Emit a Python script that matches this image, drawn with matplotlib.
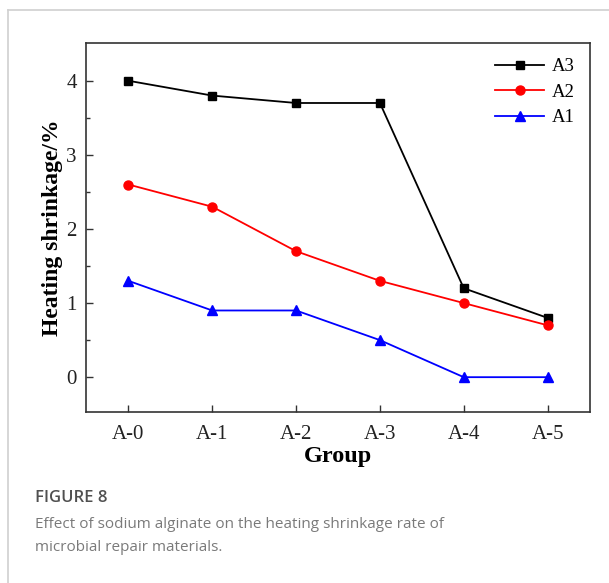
import matplotlib
matplotlib.use("Agg")
import matplotlib.pyplot as plt
from matplotlib.lines import Line2D

groups = ["A-0", "A-1", "A-2", "A-3", "A-4", "A-5"]
a3 = [4.0, 3.8, 3.7, 3.7, 1.2, 0.8]
a2 = [2.6, 2.3, 1.7, 1.3, 1.0, 0.7]
a1 = [1.3, 0.9, 0.9, 0.5, 0.0, 0.0]

plt.rcParams["font.family"] = ["Liberation Serif", "DejaVu Serif"]

fig = plt.figure(figsize=(6.09, 5.83), dpi=100)
ax = fig.add_axes([0.142, 0.2933, 0.826, 0.633])

x = range(len(groups))
ax.plot(x, a3, color="black", marker="s", markersize=5.5, linewidth=1.3, label="A3")
ax.plot(x, a2, color="red", marker="o", markersize=6.5, linewidth=1.3, label="A2")
ax.plot(x, a1, color="blue", marker="^", markersize=6.5, linewidth=1.3, label="A1")

ax.set_xlim(-0.5, 5.5)
ax.set_ylim(-0.47, 4.51)
ax.set_xticks(list(x))
ax.set_xticklabels(groups)
ax.set_yticks([0, 1, 2, 3, 4])
ax.set_yticks([0.5, 1.5, 2.5, 3.5], minor=True)
ax.tick_params(direction="in", labelsize=15, length=5, width=1, colors="#333333")
ax.tick_params(which="minor", direction="in", length=3, width=1, colors="#333333")
ax.tick_params(axis="x", labelcolor="#222222", pad=9)
ax.tick_params(axis="y", labelcolor="#222222", pad=7)
for s in ax.spines.values():
    s.set_linewidth(1.2)
    s.set_color("#333333")

ax.set_xlabel("Group", fontsize=17.5, fontweight="bold", labelpad=2)
ax.set_ylabel("Heating shrinkage/%", fontsize=17, fontweight="bold", labelpad=2)

ax.legend(loc="upper right", frameon=False, fontsize=13.5, handlelength=2.6,
          handletextpad=0.4, labelspacing=0.45, borderaxespad=0.4)

# page frame and caption
fig.add_artist(Line2D([8 / 609, 1], [1 - 9.5 / 583] * 2, color="#d0d0d0", lw=1.2))
fig.add_artist(Line2D([8 / 609] * 2, [0, 1 - 9.5 / 583], color="#d0d0d0", lw=1.2))
fig.text(35 / 609, 1 - 498 / 583, "FIGURE 8", fontsize=12, fontweight="semibold",
         color="#505050", family=["Open Sans", "DejaVu Sans"], va="center")
fig.text(35 / 609, 1 - 536 / 583,
         "Effect of sodium alginate on the heating shrinkage rate of\nmicrobial repair materials.",
         fontsize=11, color="#7a7a7a", family=["Open Sans", "DejaVu Sans"],
         va="center", linespacing=1.75)

fig.savefig("out.png", dpi=100)
